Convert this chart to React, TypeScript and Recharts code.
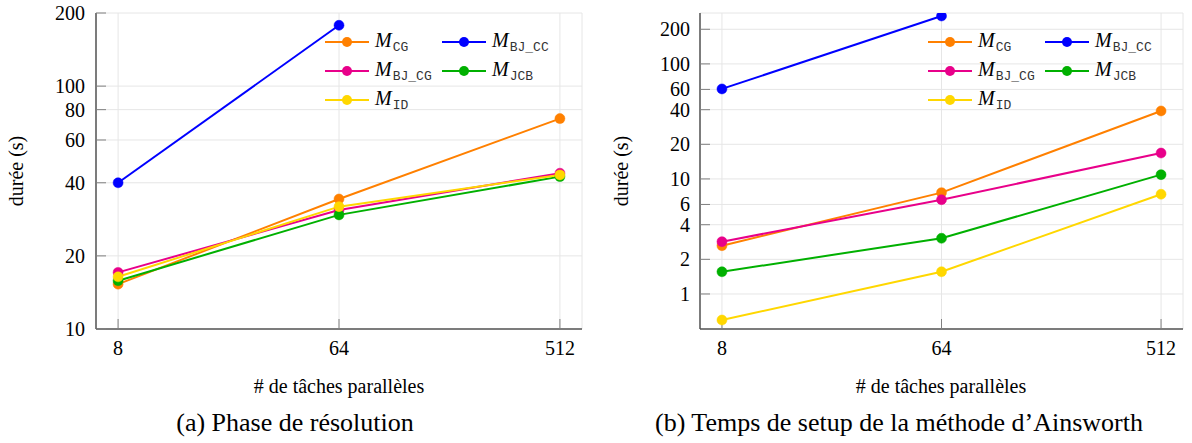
import React from 'react';
import { LineChart, Line, XAxis, YAxis, CartesianGrid, Legend } from 'recharts';

// # de tâches parallèles
const tasks = [8, 64, 512];
const taskDomain = [6.498, 630.3];

// (a) Phase de résolution, durée (s)
const cgRes = [15.3, 34.3, 73.5];
const bjccRes = [40, 178];
const bjcgRes = [17.1, 30.9, 43.8];
const jcbRes = [15.8, 29.5, 42.4];
const idRes = [16.4, 31.9, 43.1];
const resTicks = [10, 20, 40, 60, 80, 100, 200];
const resDomain = [10, 200];

// (b) Temps de setup de la méthode d'Ainsworth, durée (s)
const cgSetup = [2.63, 7.6, 39];
const bjccSetup = [60.6, 261];
const bjcgSetup = [2.85, 6.6, 16.8];
const jcbSetup = [1.56, 3.05, 10.9];
const idSetup = [0.594, 1.56, 7.36];
const setupTicks = [1, 2, 4, 6, 10, 20, 40, 60, 100, 200];
const setupDomain = [0.496, 277];

const series = [
  { key: 'cg', sub: 'CG', color: '#ff8000' },
  { key: 'bjcc', sub: 'BJ_CC', color: '#0000ff' },
  { key: 'bjcg', sub: 'BJ_CG', color: '#e8008a' },
  { key: 'jcb', sub: 'JCB', color: '#00b000' },
  { key: 'id', sub: 'ID', color: '#ffd700' },
];

const serif = 'Liberation Serif';
const mono = 'Liberation Mono';

const build = (cg: number[], bjcc: number[], bjcg: number[], jcb: number[], id: number[]) =>
  tasks.map((t, i) => ({
    t,
    cg: cg[i] ?? null,
    bjcc: bjcc[i] ?? null,
    bjcg: bjcg[i] ?? null,
    jcb: jcb[i] ?? null,
    id: id[i] ?? null,
  }));

const resData = build(cgRes, bjccRes, bjcgRes, jcbRes, idRes);
const setupData = build(cgSetup, bjccSetup, bjcgSetup, jcbSetup, idSetup);

const tickStyle = { fontFamily: serif, fontSize: 20 };

function BottomTick({ x, y, payload }: any) {
  return (
    <text x={x} y={y} dy="0.71em" textAnchor="middle" fill="#000" style={tickStyle}>
      {payload.value}
    </text>
  );
}

function LeftTick({ x, y, payload }: any) {
  return (
    <text x={x} y={y} dy="0.35em" textAnchor="end" fill="#000" style={tickStyle}>
      {payload.value}
    </text>
  );
}

function LegendBox() {
  return (
    <div style={{ display: 'grid', gridTemplateColumns: '117px 117px', gridAutoRows: '29px', alignItems: 'center' }}>
      {series.map((s) => (
        <div key={s.key} style={{ display: 'flex', alignItems: 'center', whiteSpace: 'nowrap' }}>
          <svg width={44} height={12} style={{ display: 'block' }}>
            <line x1={0} y1={6} x2={44} y2={6} stroke={s.color} strokeWidth={2} />
            <circle cx={22} cy={6} r={5} fill={s.color} />
          </svg>
          <span style={{ marginLeft: 6, fontFamily: serif, fontStyle: 'italic', fontSize: 20, lineHeight: '20px', color: '#000' }}>
            M
            <span style={{ fontFamily: mono, fontStyle: 'normal', fontSize: 13, position: 'relative', top: 4, marginLeft: 1, color: '#333' }}>
              {s.sub}
            </span>
          </span>
        </div>
      ))}
    </div>
  );
}

type PanelProps = {
  data: any[];
  yDomain: number[];
  yTicks: number[];
  width: number;
  left: number;
  right: number;
  gap: number;
  legendLeft: number;
};

function Panel({ data, yDomain, yTicks, width, left, right, gap, legendLeft }: PanelProps) {
  const frame = { stroke: '#555', strokeWidth: 1.5 };
  const tickLine = { stroke: '#808080', strokeWidth: 1 };
  return (
    <LineChart width={width} height={443} data={data} margin={{ top: 13, right, bottom: 84, left }}>
      <CartesianGrid stroke="#e6e6e6" strokeWidth={1} />
      <XAxis
        dataKey="t"
        type="number"
        scale="log"
        domain={taskDomain}
        ticks={tasks}
        interval={0}
        allowDataOverflow
        height={30}
        axisLine={frame}
        tickLine={tickLine}
        tickSize={-10}
        tickMargin={22}
        tick={<BottomTick />}
      />
      <XAxis
        xAxisId="top"
        dataKey="t"
        orientation="top"
        type="number"
        scale="log"
        domain={taskDomain}
        ticks={tasks}
        interval={0}
        allowDataOverflow
        height={0}
        axisLine={frame}
        tickLine={tickLine}
        tickSize={-10}
        tick={false}
      />
      <YAxis
        type="number"
        scale="log"
        domain={yDomain}
        ticks={yTicks}
        interval={0}
        allowDataOverflow
        width={60}
        axisLine={frame}
        tickLine={tickLine}
        tickSize={-10}
        tickMargin={10 + gap}
        tick={<LeftTick />}
      />
      <YAxis
        yAxisId="right"
        orientation="right"
        type="number"
        scale="log"
        domain={yDomain}
        ticks={yTicks}
        interval={0}
        allowDataOverflow
        width={0}
        axisLine={frame}
        tickLine={tickLine}
        tickSize={-10}
        tick={false}
      />
      <Legend
        layout="horizontal"
        verticalAlign="middle"
        align="center"
        wrapperStyle={{ left: legendLeft, top: 27.5, width: 'auto' }}
        content={() => <LegendBox />}
      />
      {series.map((s) => (
        <Line
          key={s.key}
          type="linear"
          dataKey={s.key}
          stroke={s.color}
          strokeWidth={2}
          dot={{ r: 5, fill: s.color, stroke: s.color, strokeWidth: 0.5 }}
          activeDot={false}
          connectNulls={false}
          isAnimationActive={false}
        />
      ))}
    </LineChart>
  );
}

const textBase: React.CSSProperties = {
  position: 'absolute',
  fontFamily: serif,
  color: '#000',
  whiteSpace: 'nowrap',
  lineHeight: 1,
  transform: 'translate(-50%, -50%)',
};

export default function App() {
  return (
    <div style={{ position: 'absolute', left: 0, top: 0, width: 1192, height: 443, background: '#fff' }}>
      <div style={{ position: 'absolute', left: 0, top: 0 }}>
        <Panel data={resData} yDomain={resDomain} yTicks={resTicks} width={600} left={36} right={18} gap={11} legendLeft={325} />
      </div>
      <div style={{ position: 'absolute', left: 600, top: 0 }}>
        <Panel data={setupData} yDomain={setupDomain} yTicks={setupTicks} width={592} left={40} right={9} gap={10} legendLeft={328} />
      </div>

      <div style={{ ...textBase, left: 16, top: 171, fontSize: 20, transform: 'translate(-50%, -50%) rotate(-90deg)' }}>durée (s)</div>
      <div style={{ ...textBase, left: 621, top: 171, fontSize: 20, transform: 'translate(-50%, -50%) rotate(-90deg)' }}>durée (s)</div>

      <div style={{ ...textBase, left: 339, top: 386, fontSize: 20 }}># de tâches parallèles</div>
      <div style={{ ...textBase, left: 941, top: 386, fontSize: 20 }}># de tâches parallèles</div>

      <div style={{ ...textBase, left: 295, top: 423, fontSize: 26 }}>(a) Phase de résolution</div>
      <div style={{ ...textBase, left: 899, top: 423, fontSize: 26 }}>(b) Temps de setup de la méthode d’Ainsworth</div>
    </div>
  );
}
